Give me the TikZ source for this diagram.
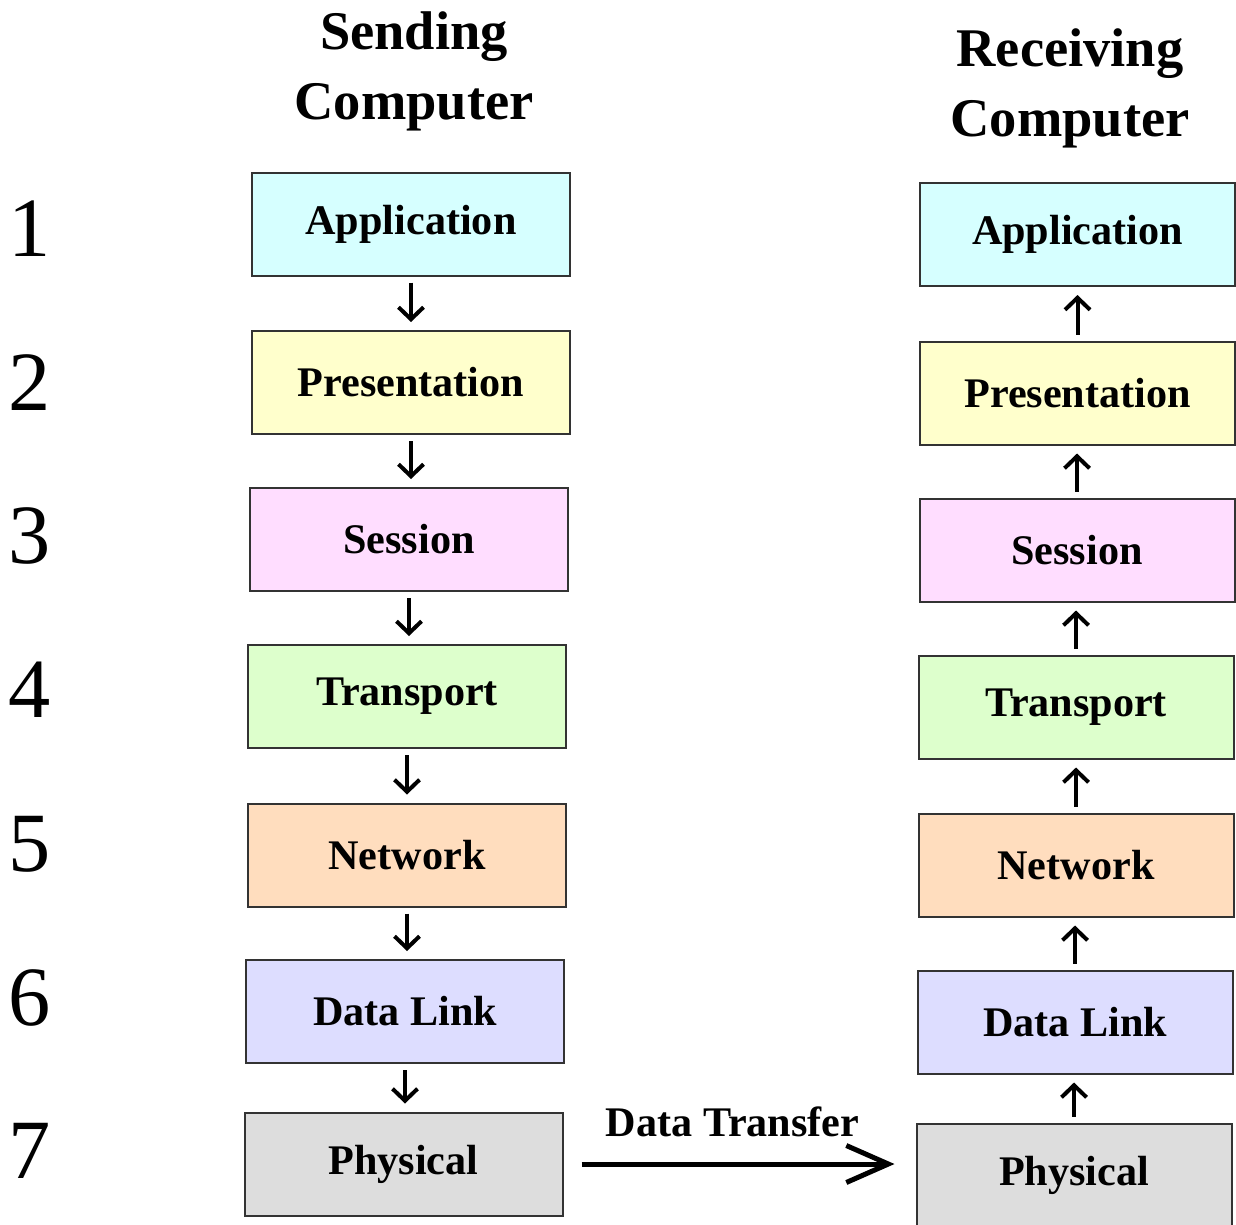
\documentclass[tikz,border=0pt]{standalone}
\usepackage{fontspec}
\setmainfont{Liberation Serif}
\usepackage{xcolor}
\usepackage{tikz}
\usetikzlibrary{arrows.meta,positioning,calc}
\definecolor{appfill}{RGB}{214,255,255}
\definecolor{presfill}{RGB}{255,255,204}
\definecolor{sessfill}{RGB}{255,221,255}
\definecolor{tranfill}{RGB}{221,255,204}
\definecolor{netfill}{RGB}{255,221,190}
\definecolor{dlfill}{RGB}{221,221,255}
\definecolor{physfill}{RGB}{221,221,221}

\begin{document}
\begin{tikzpicture}[
  every node/.style={font=\fontsize{24}{28}\selectfont\bfseries},
  lbox/.style={draw=black!80,line width=0.04cm,minimum width=6.36cm,minimum height=2.06cm,inner sep=0pt},
  rbox/.style={draw=black!80,line width=0.04cm,minimum width=6.30cm,minimum height=2.06cm,inner sep=0pt},
  head/.style={align=center,anchor=north,inner sep=0pt,font=\fontsize{31}{40}\selectfont\bfseries},
  num/.style={inner sep=0pt,font=\fontsize{48}{50}\selectfont},
  arr/.style={-{Straight Barb[length=0.24cm,width=0.5cm]},line width=0.08cm,shorten <=0.12cm,shorten >=0.16cm},
  darr/.style={-{Straight Barb[length=0.84cm,width=0.74cm]},line width=0.1cm}
]
\useasboundingbox (0,0) rectangle (24.72,-24.48);

% headings
\node[head] (sendhd) at (8.28,-0.22) {Sending\\Computer};
\node[head] (recvhd) at (21.40,-0.56) {Receiving\\Computer};

% layer numbers
\node[num] (n1) at (0.59,-4.58) {1};
\node[num] (n2) at (0.59,-7.66) {2};
\node[num] (n3) at (0.59,-10.72) {3};
\node[num] (n4) at (0.59,-13.80) {4};
\node[num] (n5) at (0.59,-16.88) {5};
\node[num] (n6) at (0.59,-19.96) {6};
\node[num] (n7) at (0.59,-23.02) {7};

% sending stack
\node[lbox,fill=appfill] (sapp) at (8.22,-4.48) {Application};
\node[lbox,fill=presfill] (spres) at (8.22,-7.65) {Presentation};
\node[lbox,fill=sessfill] (ssess) at (8.18,-10.79) {Session};
\node[lbox,fill=tranfill] (stran) at (8.14,-13.93) {Transport};
\node[lbox,fill=netfill] (snet) at (8.14,-17.10) {Network};
\node[lbox,fill=dlfill] (sdl) at (8.10,-20.23) {Data Link};
\node[lbox,fill=physfill] (sphys) at (8.07,-23.28) {Physical};

% receiving stack
\node[rbox,fill=appfill] (rapp) at (21.55,-4.69) {Application};
\node[rbox,fill=presfill] (rpres) at (21.55,-7.86) {Presentation};
\node[rbox,fill=sessfill] (rsess) at (21.54,-11.00) {Session};
\node[rbox,fill=tranfill] (rtran) at (21.52,-14.14) {Transport};
\node[rbox,fill=netfill] (rnet) at (21.52,-17.30) {Network};
\node[rbox,fill=dlfill] (rdl) at (21.50,-20.44) {Data Link};
\node[rbox,fill=physfill] (rphys) at (21.48,-23.50) {Physical};

% down the sending side
\draw[arr] (sapp.south) -- (sapp.south |- spres.north);
\draw[arr] (spres.south) -- (spres.south |- ssess.north);
\draw[arr] (ssess.south) -- (ssess.south |- stran.north);
\draw[arr] (stran.south) -- (stran.south |- snet.north);
\draw[arr] (snet.south) -- (snet.south |- sdl.north);
\draw[arr] (sdl.south) -- (sdl.south |- sphys.north);

% up the receiving side
\draw[arr] (rphys.north) -- (rphys.north |- rdl.south);
\draw[arr] (rdl.north) -- (rdl.north |- rnet.south);
\draw[arr] (rnet.north) -- (rnet.north |- rtran.south);
\draw[arr] (rtran.north) -- (rtran.north |- rsess.south);
\draw[arr] (rsess.north) -- (rsess.north |- rpres.south);
\draw[arr] (rpres.north) -- (rpres.north |- rapp.south);

% across
\node (dt) at (14.65,-22.44) {Data Transfer};
\draw[darr,shorten <=0.36cm,shorten >=0.42cm] (sphys.east) -- (sphys.east -| rphys.west);
\end{tikzpicture}
\end{document}
